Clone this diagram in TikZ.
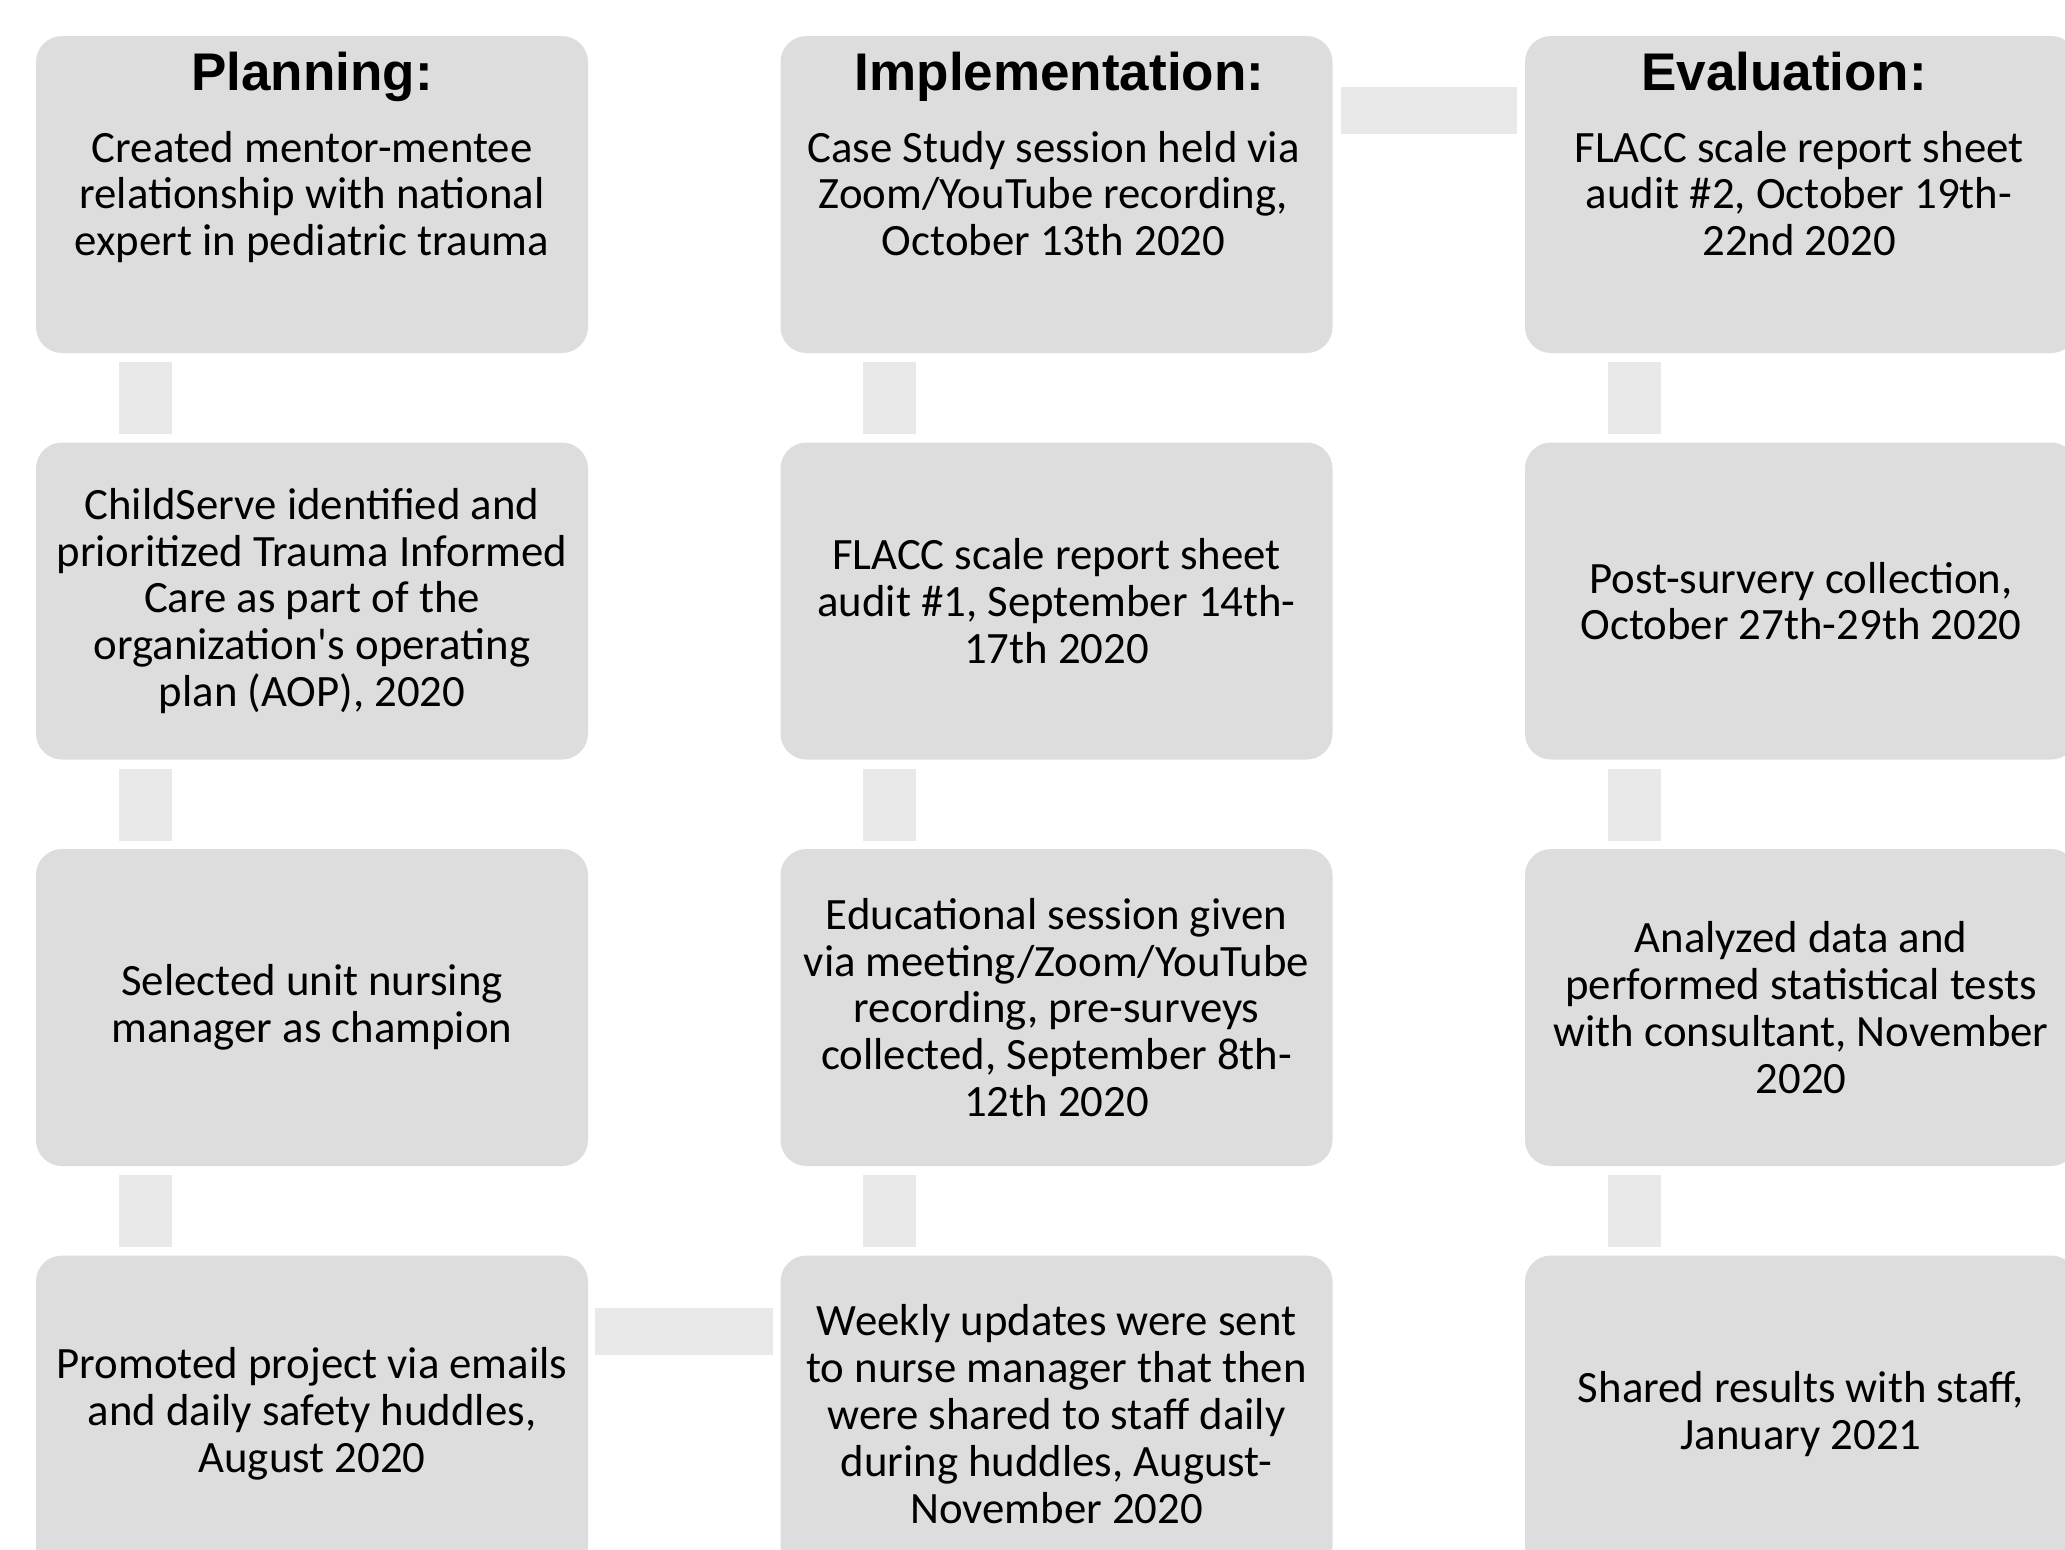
\documentclass[tikz,border=0pt]{standalone}
\usepackage{fontspec}
\setmainfont{Carlito}
\newfontfamily\headfont{Liberation Sans}
\usetikzlibrary{calc}
\definecolor{boxgray}{RGB}{221,221,221}
\definecolor{linkgray}{RGB}{233,233,233}
\tikzset{
  stage/.style={rectangle, fill=boxgray, rounded corners=13pt,
    minimum width=276pt, minimum height=158.5pt, inner sep=0pt,
    align=center, font=\fontsize{22.4}{23.4}\selectfont},
  head/.style={anchor=base, inner sep=0pt,
    font=\headfont\bfseries\fontsize{26.5}{30}\selectfont},
  body/.style={anchor=north, inner sep=0pt, align=center,
    font=\fontsize{22.4}{23.4}\selectfont},
  link/.style={fill=linkgray},
}
\begin{document}
\begin{tikzpicture}[x=0.5pt,y=-0.5pt]
\useasboundingbox (0,0) rectangle (2065,1549);
\clip (0,0) rectangle (2065,1549);
\fill[white] (0,0) rectangle (2065,1549);

% Planning column
\node[stage] (p1) at (312,194.5) {};
\node[stage] (p2) at (312,601) {ChildServe identified and\\prioritized Trauma Informed\\Care as part of the\\organization\textquotesingle s operating\\plan (AOP), 2020};
\node[stage] (p3) at (312,1007.5) {Selected unit nursing\\manager as champion};
\node[stage] (p4) at (312,1414) {Promoted project via emails\\and daily safety huddles,\\August 2020};

% Implementation column
\node[stage] (i1) at (1056.5,194.5) {};
\node[stage] (i2) at (1056.5,601) {FLACC scale report sheet\\audit \#1, September 14th-\\17th 2020};
\node[stage] (i3) at (1056.5,1007.5) {Educational session given\\via meeting/Zoom/YouTube\\recording, pre-surveys\\collected, September 8th-\\12th 2020};
\node[stage] (i4) at (1056.5,1414) {Weekly updates were sent\\to nurse manager that then\\were shared to staff daily\\during huddles, August-\\November 2020};

% Evaluation column
\node[stage] (e1) at (1801,194.5) {};
\node[stage] (e2) at (1801,601) {Post-survery collection,\\October 27th-29th 2020};
\node[stage] (e3) at (1801,1007.5) {Analyzed data and\\performed statistical tests\\with consultant, November\\2020};
\node[stage] (e4) at (1801,1414) {Shared results with staff,\\January 2021};

% headings and text of the first row
\node[head] (ph) at ($(p1.north)+(0,55)$) {Planning:};
\node[head] (ih) at ($(i1.north)+(3,55)$) {Implementation:};
\node[head] (eh) at ($(e1.north)+(-17,55)$) {Evaluation:};
\node[body] (pt) at ($(p1.north)+(0,95)$) {Created mentor-mentee\\relationship with national\\expert in pediatric trauma};
\node[body] (it) at ($(i1.north)+(-3,95)$) {Case Study session held via\\Zoom/YouTube recording,\\October 13th 2020};
\node[body] (et) at ($(e1.north)+(-2,95)$) {FLACC scale report sheet\\audit \#2, October 19th-\\22nd 2020};

% vertical links inside each column
\foreach \c in {p,i,e}{
  \fill[link] ($(\c1.south west)+(83,9)$) rectangle ($(\c2.north west)+(136,-8)$);
  \fill[link] ($(\c2.south west)+(83,9)$) rectangle ($(\c3.north west)+(136,-8)$);
  \fill[link] ($(\c3.south west)+(83,9)$) rectangle ($(\c4.north west)+(136,-8)$);
}
% horizontal links between columns
\fill[link] ($(i1.north east)+(8.5,51)$) rectangle ($(e1.north west)+(-7.5,98)$);
\fill[link] ($(p4.north east)+(7,52.5)$) rectangle ($(i4.north west)+(-7.5,99.5)$);
\end{tikzpicture}
\end{document}
